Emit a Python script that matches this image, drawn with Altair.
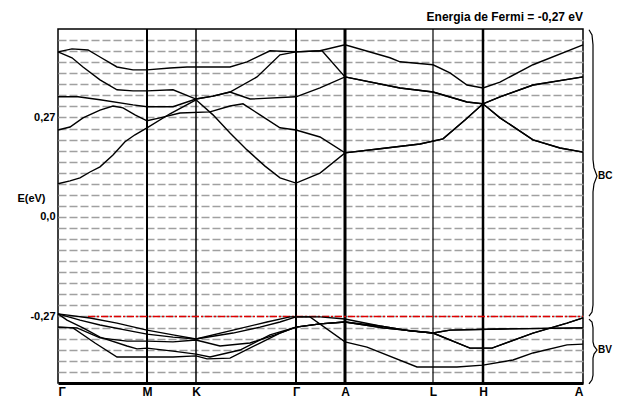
import altair as alt
import pandas as pd

# high-symmetry points along the path
kpos = [0, 89, 138, 238, 287, 375, 425, 525]
klabels = ["Γ", "M", "K", "Γ", "A", "L", "H", "A"]
kwidth = [0.0, 2.0, 1.5, 2.0, 3.0, 1.2, 2.5, 0.0]

# conduction bands (eV)
cb1_k = [0, 14, 30, 42, 59, 75, 89, 112, 129, 172, 189, 212, 238, 262, 287, 332, 342, 375, 392, 409, 425, 442, 475, 525]
cb1_e = [.448, .456, .453, .434, .407, .399, .399, .404, .407, .407, .421, .451, .448, .451, .467, .432, .421, .413, .391, .358, .350, .366, .413, .467]

cb2_k = [0, 14, 25, 42, 59, 75, 89, 115, 138, 155, 172, 199, 222, 238, 264, 287, 342, 375, 409, 425, 442, 475, 525]
cb2_e = [.448, .432, .407, .372, .345, .342, .342, .345, .320, .328, .339, .380, .440, .448, .451, .380, .350, .339, .312, .307, .326, .358, .380]

cb3_k = [0, 20, 42, 75, 89, 115, 138, 155, 172, 192, 238, 262, 287, 342, 375, 409, 425, 442, 475, 502, 525]
cb3_e = [.326, .326, .318, .304, .299, .299, .320, .328, .339, .320, .326, .350, .380, .350, .339, .312, .307, .269, .209, .187, .176]

cb4_k = [0, 12, 25, 42, 55, 65, 77, 89, 102, 122, 152, 172, 185, 202, 222, 238, 262, 287, 322, 362, 385, 407, 425, 442, 475, 525]
cb4_e = [.236, .244, .269, .290, .301, .296, .277, .261, .269, .282, .285, .301, .307, .277, .242, .236, .217, .174, .185, .198, .212, .263, .307, .326, .358, .380]

cb5_k = [0, 12, 22, 32, 42, 55, 67, 77, 89, 112, 138, 155, 172, 189, 207, 222, 238, 262, 287, 322, 362, 385, 407, 425, 442, 475, 502, 525]
cb5_e = [.090, .098, .106, .122, .136, .168, .204, .223, .242, .280, .318, .277, .228, .182, .138, .106, .092, .119, .174, .185, .198, .212, .263, .307, .269, .209, .187, .176]

# valence bands (eV)
vb1_k = [0, 32, 59, 89, 115, 138, 175, 209, 232, 238, 262, 287, 322, 352, 375, 392, 442, 525]
vb1_e = [-.263, -.274, -.288, -.307, -.320, -.331, -.307, -.285, -.271, -.271, -.271, -.277, -.296, -.309, -.315, -.307, -.304, -.301]

vb2_k = [0, 22, 42, 72, 89, 115, 138, 175, 202, 222, 238, 252, 287, 309, 359, 375, 399, 425, 455, 475, 509, 525]
vb2_e = [-.263, -.280, -.293, -.309, -.318, -.326, -.331, -.315, -.299, -.285, -.271, -.271, -.339, -.353, -.407, -.407, -.407, -.402, -.388, -.369, -.347, -.345]

vb3_k = [0, 9, 25, 42, 69, 79, 89, 115, 138, 152, 182, 212, 238, 262, 287, 325, 375, 412, 434, 475, 509, 525]
vb3_e = [-.263, -.280, -.301, -.326, -.350, -.358, -.356, -.364, -.372, -.380, -.361, -.320, -.299, -.290, -.285, -.301, -.315, -.356, -.356, -.315, -.288, -.274]

vb4_k = [0, 19, 42, 69, 89, 115, 138, 162, 192, 217, 238, 262, 287, 322, 352, 375, 392, 442, 525]
vb4_e = [-.299, -.301, -.328, -.337, -.337, -.339, -.334, -.350, -.342, -.320, -.299, -.290, -.285, -.296, -.309, -.315, -.307, -.304, -.301]

vb5_k = [0, 15, 37, 59, 89, 115, 138, 149, 172, 202, 222, 238, 262, 287, 325, 375, 412, 434, 475, 509, 525]
vb5_e = [-.299, -.301, -.342, -.380, -.380, -.380, -.377, -.385, -.383, -.342, -.315, -.299, -.290, -.285, -.301, -.315, -.356, -.356, -.315, -.288, -.274]

fermi = -0.27
grid_e = [-0.45, -0.42, -0.39, -0.36, -0.33, -0.30, -0.27, -0.24, -0.21, -0.18, -0.15, -0.12,
          -0.09, -0.06, -0.03, 0.0, 0.03, 0.06, 0.09, 0.12, 0.15, 0.18, 0.21, 0.24, 0.27,
          0.30, 0.33, 0.36, 0.39, 0.42, 0.45, 0.48]

# brace outlines to the right of the plot (k, E)
bc_k = [531, 534, 535, 535, 536, 539, 536, 535, 535, 534, 531]
bc_e = [.508, .494, .467, .155, .133, .111, .090, .068, -.239, -.258, -.269]
bv_k = [531, 534, 535, 535, 536, 539, 536, 535, 535, 534, 531]
bv_e = [-.277, -.285, -.301, -.339, -.350, -.361, -.372, -.383, -.429, -.442, -.453]
brace_text = ["BC", "BV"]
brace_text_k = [540, 540]
brace_text_e = [0.111, -0.361]

bands = {
    "CB1": (cb1_k, cb1_e), "CB2": (cb2_k, cb2_e), "CB3": (cb3_k, cb3_e),
    "CB4": (cb4_k, cb4_e), "CB5": (cb5_k, cb5_e),
    "VB1": (vb1_k, vb1_e), "VB2": (vb2_k, vb2_e), "VB3": (vb3_k, vb3_e),
    "VB4": (vb4_k, vb4_e), "VB5": (vb5_k, vb5_e),
}
rows = []
for name, (ks, es) in bands.items():
    for i, (k, e) in enumerate(zip(ks, es)):
        rows.append({"band": name, "k": k, "E": e, "i": i})
band_df = pd.DataFrame(rows)

brows = []
for name, (ks, es) in {"BC": (bc_k, bc_e), "BV": (bv_k, bv_e)}.items():
    for i, (k, e) in enumerate(zip(ks, es)):
        brows.append({"brace": name, "k": k, "E": e, "i": i})
brace_df = pd.DataFrame(brows)

klines_df = pd.DataFrame({"k": kpos[1:-1], "w": kwidth[1:-1]})
fermi_df = pd.DataFrame({"k0": [30], "k1": [525], "E": [fermi]})
text_df = pd.DataFrame({"t": brace_text, "k": brace_text_k, "E": brace_text_e})

FONT = "Liberation Sans"

label_expr = "''"
for kp, lab in zip(kpos, klabels):
    label_expr = f"datum.value == {kp} ? '{lab}' : ({label_expr})"

xscale = alt.Scale(domain=[0, 525], nice=False, zero=False)
yscale = alt.Scale(domain=[-0.4505, 0.510], nice=False, zero=False)

xaxis = alt.Axis(values=kpos, labelExpr=label_expr, title=None, grid=False, ticks=False,
                 domainColor="black", domainWidth=3, labelFontSize=12, labelFont=FONT,
                 labelFontWeight="bold", labelColor="black", labelPadding=3)
yaxis = alt.Axis(values=grid_e, grid=True, gridDash=[8, 3], gridColor="#a0a0a0", gridWidth=1.5,
                 ticks=False, domain=False,
                 labelExpr="abs(datum.value - 0.27) < 0.001 ? '0,27' : (abs(datum.value) < 0.001 ? '0,0' : (abs(datum.value + 0.27) < 0.001 ? '-0,27' : ''))",
                 labelFontSize=11, labelFont=FONT, labelFontWeight="bold", labelColor="black",
                 labelPadding=3, title="E(eV)", titleAngle=0, titleAlign="right",
                 titleBaseline="middle", titleX=-13, titleY=169, titleFontSize=11,
                 titleFont=FONT, titleFontWeight="bold", titleColor="black")

X = alt.X("k:Q", scale=xscale, axis=xaxis)
Y = alt.Y("E:Q", scale=yscale, axis=yaxis)

klines = alt.Chart(klines_df).mark_rule(color="black").encode(
    x=X, strokeWidth=alt.StrokeWidth("w:Q", scale=None, legend=None))

fermi_line = alt.Chart(fermi_df).mark_rule(color="#e00000", strokeWidth=1.5, strokeDash=[7, 2, 2, 2]).encode(
    x=alt.X("k0:Q", scale=xscale, axis=xaxis), x2="k1:Q", y=Y)

lines = alt.Chart(band_df).mark_line(color="black", strokeWidth=1.4).encode(
    x=X, y=Y, detail="band:N", order="i:Q")

braces = alt.Chart(brace_df).mark_line(color="black", strokeWidth=1.2, clip=False).encode(
    x=X, y=Y, detail="brace:N", order="i:Q")

btext = alt.Chart(text_df).mark_text(align="left", baseline="middle", fontSize=10, font=FONT,
                                     fontWeight="bold", color="black", clip=False).encode(
    x=X, y=Y, text="t:N")

chart = alt.layer(klines, fermi_line, lines, braces, btext).properties(
    width=525, height=354,
    title=alt.TitleParams("Energia de Fermi = -0,27 eV", anchor="end", frame="group",
                          fontSize=12, font=FONT, fontWeight="bold", color="black", offset=3),
    autosize=alt.AutoSizeParams(type="none"),
    padding={"left": 50, "top": 21, "right": 30, "bottom": 14},
).configure_view(stroke="black", strokeWidth=1.5)

chart.save("out.html", embed_options={"renderer": "svg", "actions": False})
